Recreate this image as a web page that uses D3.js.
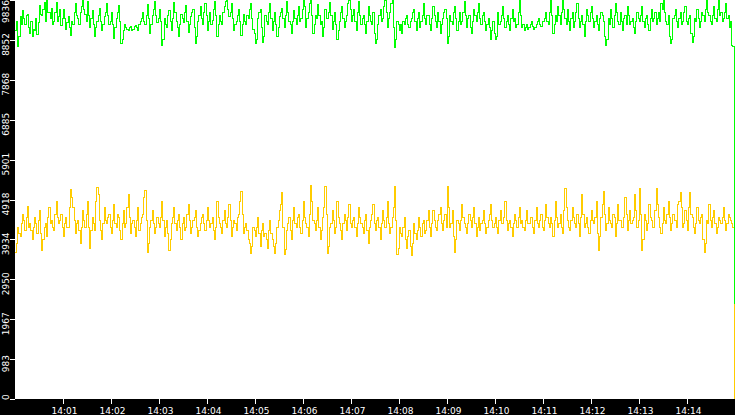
<!DOCTYPE html>
<html>
<head>
<meta charset="utf-8">
<script src="https://cdn.jsdelivr.net/npm/d3@7"></script>
<style>
  body { margin: 0; background: #fff; }
  svg { display: block; }
  .tick-label { font-family: "DejaVu Sans", sans-serif; font-size: 9px; fill: #fff; }
</style>
</head>
<body>
<div id="chart"></div>
<script>
/* two sampled series, one reading every 1.5 seconds from 14:00:00 */

const W = 735, H = 415;
const PLOT = { left: 15.2, right: 734, top: 0, bottom: 399 };

const START = new Date(2024, 0, 1, 14, 0, 0);
const STEP_MS = 1500;

const Y_TICKS = [0, 983, 1967, 2950, 3934, 4918, 5901, 6885, 7868, 8852, 9836];
const X_TICK_LABELS = ["14:01", "14:02", "14:03", "14:04", "14:05", "14:06", "14:07",
  "14:08", "14:09", "14:10", "14:11", "14:12", "14:13", "14:14"];

const GREEN = [
  9075, 9300, 8702, 8925, 9420, 9225, 9570, 9375, 9225, 9450, 9480, 9150, 9000, 9300, 8925, 9120, 9090, 9375, 8985, 9270,
  9690, 9480, 9450, 9600, 9780, 9300, 9834, 9525, 9525, 9375, 9630, 9225, 9300, 9525, 9765, 9300, 9420, 9600, 9210, 9375,
  9600, 9375, 9120, 9270, 9435, 9150, 8970, 9300, 9240, 9525, 9750, 9450, 9375, 9225, 9525, 9675, 9830, 9600, 9480, 9300,
  9810, 9450, 9150, 9375, 9570, 9225, 8925, 9150, 9300, 9450, 9630, 9300, 9075, 9225, 9420, 9525, 9750, 9450, 9225, 9300,
  9525, 9225, 8880, 9150, 9375, 9525, 9690, 9300, 8775, 8850, 9075, 9225, 9150, 9120, 9075, 9150, 9180, 9075, 9120, 9195,
  9210, 9150, 9090, 9225, 9300, 9375, 9525, 9300, 9225, 9450, 9720, 9375, 9000, 9225, 9450, 9600, 9800, 9450, 9270, 9375,
  9600, 9300, 8725, 8850, 9375, 9225, 9150, 9450, 9570, 9300, 9075, 9375, 9780, 9525, 9300, 9150, 8925, 9225, 9480, 9375,
  9270, 9525, 9690, 9300, 9030, 9225, 9420, 9525, 9600, 9150, 8775, 8925, 9300, 9450, 9675, 9375, 9225, 9525, 9750, 9450,
  9075, 9300, 9525, 9225, 9330, 9600, 9810, 9450, 8925, 9225, 9450, 9300, 9225, 9525, 9675, 9800, 9834, 9600, 9420, 9525,
  9750, 9375, 9075, 9225, 9300, 9450, 9600, 9300, 8970, 9225, 9480, 9300, 9225, 9450, 9375, 9600, 9750, 9375, 9120, 9000,
  8775, 8850, 9375, 9525, 9600, 9150, 8800, 8925, 9450, 9300, 9225, 9525, 9750, 9375, 9075, 9300, 9525, 9225, 8925, 9150,
  9420, 9525, 9630, 9375, 9150, 9450, 9800, 9525, 9300, 9225, 9000, 9300, 9570, 9375, 9225, 9450, 9675, 9300, 9375, 9600,
  9825, 9675, 9150, 9375, 9525, 9750, 9825, 9450, 9000, 9225, 9450, 9375, 9720, 9450, 9225, 9300, 8925, 9150, 9600, 9375,
  9375, 9525, 9780, 9450, 9120, 9300, 9525, 9225, 8850, 9075, 9300, 9525, 9675, 9375, 9150, 9300, 9450, 9750, 9825, 9600,
  9300, 9450, 9600, 9300, 9075, 9525, 9800, 9450, 9225, 9375, 9450, 9225, 9000, 9300, 9675, 9450, 9300, 9225, 9525, 9000,
  8775, 8850, 9225, 9450, 9600, 9300, 9375, 9675, 9825, 9525, 9150, 9375, 9525, 9750, 9830, 9150, 8677, 8850, 9300, 9225,
  9075, 9225, 9000, 9300, 9225, 9375, 9450, 9225, 9150, 9300, 9375, 9525, 9600, 9300, 9075, 9375, 9525, 9150, 9300, 9450,
  9750, 9375, 9225, 9450, 9450, 9225, 9075, 9375, 9675, 9450, 9300, 9150, 9525, 9300, 9000, 9225, 9375, 9525, 9600, 9375,
  8775, 8925, 9450, 9300, 9225, 9525, 9675, 9375, 9075, 9300, 9525, 9225, 9300, 9525, 9800, 9450, 9150, 9375, 9450, 9150,
  9000, 9300, 9600, 9450, 9300, 9525, 9750, 9375, 9225, 9450, 9525, 9300, 9075, 9225, 9375, 9150, 8850, 9075, 9300, 9000,
  8850, 8925, 9525, 9225, 9300, 9450, 9675, 9375, 9150, 9300, 9450, 9225, 9075, 9375, 9600, 9300, 9375, 9150, 9225, 9525,
  9815, 9450, 9150, 9225, 9075, 9150, 9225, 9120, 9150, 9225, 9300, 9180, 9120, 9150, 9225, 9300, 9375, 9240, 9180, 9300,
  9300, 9375, 9525, 9300, 9225, 9525, 9815, 9450, 9000, 9225, 9450, 9300, 9675, 9450, 9225, 9525, 9815, 9600, 9375, 9225,
  9600, 9300, 9075, 9375, 9525, 9150, 9300, 9525, 9750, 9375, 9150, 9300, 9450, 9225, 8925, 9300, 9600, 9450, 9300, 9525,
  9675, 9375, 9150, 9300, 9450, 9225, 9075, 9375, 9525, 9450, 9300, 8925, 8725, 8850, 9375, 9225, 9600, 9375, 9150, 9450,
  9750, 9525, 9300, 9225, 9525, 9300, 9075, 9375, 9450, 9225, 9675, 9450, 9225, 9300, 9375, 9150, 9000, 9300, 9525, 9375,
  9300, 9450, 9675, 9300, 9150, 9375, 9450, 9225, 9075, 9375, 9600, 9300, 9375, 9525, 9225, 9375, 9525, 9300, 9750, 9600,
  9820, 9525, 9300, 9225, 9450, 8925, 8775, 8850, 9375, 9450, 9600, 9300, 9150, 9375, 9525, 9225, 9300, 9525, 9675, 9300,
  9225, 9375, 9450, 9000, 8800, 8925, 9375, 9300, 9600, 9375, 9150, 9300, 9525, 9450, 9300, 9600, 9815, 9525, 9450, 9300,
  9225, 9450, 9675, 9375, 9300, 9600, 9815, 9450, 9525, 9300, 9375, 9525, 9750, 9375, 9450, 9150, 9300, 8725, 8680, 2330
];

const YELLOW = [
  3600, 3840, 4240, 4080, 4000, 4320, 4560, 4400, 4160, 4480, 4750, 4240, 4320, 4160, 3920, 4240, 4480, 4320, 4080, 4400,
  4640, 4080, 3670, 3920, 4240, 4320, 4000, 4480, 4720, 4320, 4400, 4240, 4160, 4560, 4880, 4480, 4320, 4400, 4560, 4240,
  4000, 4320, 4480, 4240, 4240, 4720, 5160, 4960, 4720, 4400, 4080, 4320, 4400, 4160, 3840, 4240, 4640, 4400, 4240, 4560,
  4880, 4240, 3720, 4160, 4480, 4320, 4160, 4880, 5220, 5040, 4400, 4160, 3920, 4320, 4720, 4400, 4320, 4480, 4560, 4240,
  4080, 4400, 4800, 4320, 4240, 4560, 4480, 4160, 3920, 4320, 4640, 4240, 4320, 4720, 5040, 4480, 4080, 4320, 4400, 4240,
  4000, 4400, 4720, 4160, 4320, 4480, 4560, 4960, 5140, 4400, 3620, 3840, 4240, 4400, 4640, 4320, 4080, 4240, 4480, 4320,
  4240, 4480, 4880, 4400, 4000, 4240, 4400, 4080, 3650, 3920, 4320, 4480, 4720, 4320, 4160, 4400, 4560, 4240, 3920, 4320,
  4480, 4160, 4240, 4560, 4800, 4400, 4080, 4240, 4400, 4480, 4640, 4240, 4000, 4160, 4320, 4480, 4560, 4320, 4160, 4400,
  4720, 4400, 4240, 4320, 4480, 4160, 3920, 4240, 4880, 4480, 4320, 4240, 4080, 4400, 4640, 4320, 4240, 4480, 4800, 4400,
  4000, 4240, 4400, 4320, 4160, 4480, 4560, 4880, 5120, 4560, 4080, 4240, 4320, 4160, 3920, 3840, 3590, 3760, 4240, 4160,
  4000, 4240, 4480, 4080, 3760, 4160, 4320, 4000, 4080, 3920, 3720, 4160, 4400, 4080, 3920, 3760, 3590, 3840, 4240, 4400,
  4640, 4800, 5080, 4240, 3560, 3690, 4160, 4320, 4480, 4160, 3920, 4400, 4720, 4320, 4240, 4480, 4560, 4240, 4080, 4400,
  4880, 4480, 4320, 4240, 4000, 4560, 5270, 4880, 4400, 4320, 4160, 4400, 4720, 4240, 3920, 4160, 4480, 4720, 5240, 4560,
  3590, 3760, 4240, 4320, 4640, 4400, 4080, 4240, 4880, 4480, 4320, 4160, 3920, 4320, 4560, 4400, 4160, 4480, 4800, 4320,
  4240, 4400, 4480, 4240, 4000, 4320, 4720, 4480, 4320, 4240, 4080, 4400, 4560, 4160, 3840, 4240, 4400, 4560, 4800, 4320,
  4160, 4400, 4480, 4240, 3920, 4320, 4640, 4400, 4240, 4480, 4880, 4320, 4080, 4240, 4480, 4720, 5240, 4400, 3560, 3720,
  4240, 4080, 4000, 4240, 4480, 3920, 3720, 4000, 4160, 3760, 3530, 3840, 4320, 4080, 3920, 4160, 4480, 4240, 4000, 4320,
  4400, 4080, 4160, 4400, 4640, 4240, 4000, 4320, 4640, 4400, 4240, 4160, 4400, 4560, 4720, 4320, 4160, 4400, 4560, 4240,
  5250, 4720, 4240, 4320, 4640, 4000, 3620, 3920, 4400, 4320, 4160, 4400, 4800, 4480, 4320, 4240, 4080, 4320, 4560, 4400,
  4240, 4480, 4720, 4320, 4000, 4240, 4480, 4160, 4320, 4400, 4640, 4320, 4080, 4240, 4400, 4560, 4800, 4400, 4240, 4320,
  4480, 4240, 4080, 4400, 4640, 4320, 4320, 4480, 4880, 4400, 4160, 4320, 4400, 4240, 4000, 4320, 4560, 4400, 4240, 4480,
  4720, 4320, 4400, 4240, 4160, 4400, 4640, 4320, 4320, 4480, 4480, 4240, 4080, 4400, 4720, 4320, 4240, 4400, 4560, 4240,
  4160, 4400, 4800, 4480, 4320, 4240, 4480, 4320, 4000, 4400, 4880, 4480, 4240, 4320, 4560, 4240, 4080, 4640, 5180, 4720,
  4400, 4240, 4160, 4400, 4720, 4480, 4320, 4240, 4560, 4320, 4000, 4480, 5040, 4560, 4240, 4320, 4480, 4240, 4080, 4400,
  4640, 4400, 4320, 4480, 4880, 4080, 3670, 4000, 4480, 4800, 5120, 4560, 4160, 4320, 4720, 4400, 4320, 4240, 4560, 4480,
  4000, 4320, 4800, 4400, 4400, 4240, 4240, 4480, 4960, 4560, 4160, 4400, 4640, 4320, 4400, 4480, 5040, 4640, 4240, 4400,
  5180, 4560, 3650, 3920, 4560, 4400, 4160, 4320, 4800, 4480, 4400, 4240, 4240, 4640, 5180, 4800, 4480, 4240, 4080, 4320,
  4720, 4400, 4320, 4560, 4880, 4480, 4160, 4320, 4560, 4400, 4400, 4240, 4800, 4880, 5100, 4720, 4240, 4320, 4640, 4400,
  4160, 4720, 5100, 4560, 4480, 4240, 4080, 4320, 4720, 4400, 4320, 4480, 4560, 3920, 3600, 3840, 4400, 4320, 4800, 4400,
  4240, 4480, 4640, 4320, 4080, 4240, 4480, 4400, 4320, 4480, 4720, 4400, 4160, 4320, 4560, 4480, 4400, 4320, 4240, 0
];

const times = GREEN.map((_, i) => new Date(START.getTime() + i * STEP_MS));

const x = d3.scaleTime()
  .domain([times[0], times[times.length - 1]])
  .range([PLOT.left, PLOT.right]);

const y = d3.scaleLinear()
  .domain([0, d3.max(Y_TICKS)])
  .range([PLOT.bottom, PLOT.top]);

const svg = d3.select("#chart").append("svg")
  .attr("width", W)
  .attr("height", H);

svg.append("rect").attr("width", W).attr("height", H).attr("fill", "#fff");

// series - drawn as steps, the way the recorder plots its samples
const line = d3.line()
  .x((d, i) => x(times[i]))
  .y((d) => y(d))
  .curve(d3.curveStepAfter);

[[YELLOW, "#ffcc00"], [GREEN, "#00ff00"]].forEach(([vals, col]) => {
  svg.append("path")
    .datum(vals)
    .attr("d", line)
    .attr("fill", "none")
    .attr("stroke", col)
    .attr("stroke-width", 1)
    .attr("shape-rendering", "crispEdges");
});

// black axis bands
svg.append("rect").attr("x", 0).attr("y", 0).attr("width", 15).attr("height", H).attr("fill", "#000");
svg.append("rect").attr("x", 0).attr("y", PLOT.bottom).attr("width", W).attr("height", H - PLOT.bottom).attr("fill", "#000");

// y axis: short white ticks, rotated labels kept inside the band
const yAxis = svg.append("g");
Y_TICKS.forEach((v) => {
  const ty = Math.round(y(v)) + 0.5;
  yAxis.append("line")
    .attr("x1", 10).attr("x2", 15)
    .attr("y1", ty).attr("y2", ty)
    .attr("stroke", "#fff")
    .attr("shape-rendering", "crispEdges");
  const lbl = yAxis.append("text")
    .attr("class", "tick-label")
    .attr("text-anchor", "middle")
    .text(v);
  const half = lbl.node().getComputedTextLength() / 2;
  const cy = Math.max(half, Math.min(PLOT.bottom + 1 - half, y(v) + 4.5));
  lbl.attr("transform", `translate(9,${cy}) rotate(-90)`);
});

// x axis: one tick a minute
const parse = d3.timeParse("%H:%M");
const xAxis = svg.append("g");
X_TICK_LABELS.forEach((s) => {
  const p = parse(s);
  const t = new Date(START);
  t.setHours(p.getHours(), p.getMinutes(), 0, 0);
  const tx = Math.round(x(t)) + 0.5;
  xAxis.append("line")
    .attr("x1", tx).attr("x2", tx)
    .attr("y1", PLOT.bottom).attr("y2", PLOT.bottom + 5)
    .attr("stroke", "#fff")
    .attr("shape-rendering", "crispEdges");
  xAxis.append("text")
    .attr("class", "tick-label")
    .attr("x", tx + 1)
    .attr("y", 414)
    .attr("text-anchor", "middle")
    .text(d3.timeFormat("%H:%M")(t));
});
</script>
</body>
</html>
